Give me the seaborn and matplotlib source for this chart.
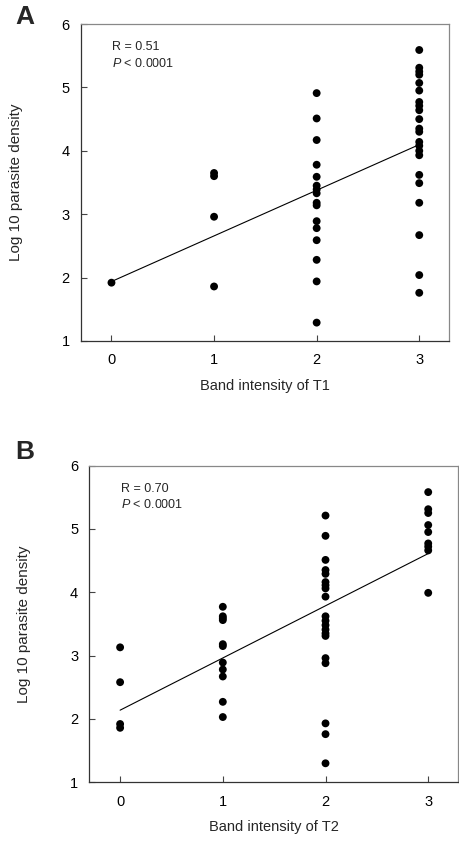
import numpy as np
import pandas as pd
import matplotlib
matplotlib.use("Agg")
import matplotlib.pyplot as plt
import seaborn as sns

# ---- data ----
a_band = [0,
          1, 1, 1, 1,
          2, 2, 2, 2, 2, 2, 2, 2, 2, 2, 2, 2, 2, 2, 2, 2,
          3, 3, 3, 3, 3, 3, 3, 3, 3, 3, 3, 3, 3, 3, 3, 3, 3, 3, 3, 3, 3, 3]
a_log = [1.92,
         3.65, 3.60, 2.96, 1.86,
         4.91, 4.51, 4.17, 3.78, 3.59, 3.45, 3.39, 3.33, 3.18, 3.14, 2.89, 2.78, 2.59, 2.28, 1.94, 1.29,
         5.59, 5.31, 5.25, 5.20, 5.07, 4.95, 4.77, 4.71, 4.64, 4.50, 4.35, 4.30, 4.14, 4.08, 4.00, 3.93,
         3.62, 3.49, 3.18, 2.67, 2.04, 1.76]

b_band = [0, 0, 0, 0,
          1, 1, 1, 1, 1, 1, 1, 1, 1, 1, 1,
          2, 2, 2, 2, 2, 2, 2, 2, 2, 2, 2, 2, 2, 2, 2, 2, 2, 2, 2, 2,
          3, 3, 3, 3, 3, 3, 3, 3, 3]
b_log = [3.13, 2.58, 1.92, 1.86,
         3.77, 3.62, 3.59, 3.56, 3.18, 3.15, 2.89, 2.78, 2.67, 2.27, 2.03,
         5.21, 4.89, 4.51, 4.35, 4.29, 4.16, 4.11, 4.06, 3.93, 3.62, 3.55, 3.48, 3.41, 3.35, 3.31,
         2.96, 2.88, 1.93, 1.76, 1.30,
         5.58, 5.31, 5.25, 5.06, 4.95, 4.77, 4.72, 4.66, 3.99]

x_ticks = [0, 1, 2, 3]
y_ticks = [1, 2, 3, 4, 5, 6]
panels = [
    dict(label="A", band=a_band, log=a_log, xlabel="Band intensity of T1", r="R = 0.51",
         rect=(80.7, 24, 449, 341), lab_xy=(25, 17)),
    dict(label="B", band=b_band, log=b_log, xlabel="Band intensity of T2", r="R = 0.70",
         rect=(89.3, 465.5, 458, 782.3), lab_xy=(25, 452)),
]

sns.set_theme(style="white")
plt.rcParams["font.family"] = ["Liberation Sans", "DejaVu Sans"]
plt.rcParams["mathtext.fontset"] = "custom"
plt.rcParams["mathtext.it"] = "Liberation Sans:italic"
plt.rcParams["mathtext.rm"] = "Liberation Sans"

W, H = 460, 842
fig = plt.figure(figsize=(W / 100, H / 100), dpi=100)

for p in panels:
    l, t, r, b = p["rect"]
    ax = fig.add_axes([l / W, 1 - b / H, (r - l) / W, (b - t) / H])
    df = pd.DataFrame({"band": p["band"], "log": p["log"]})
    sns.scatterplot(data=df, x="band", y="log", ax=ax, color="black", s=32,
                    edgecolor="none", linewidth=0, zorder=3)
    sns.regplot(data=df, x="band", y="log", ax=ax, scatter=False, ci=None,
                truncate=True, line_kws=dict(color="black", lw=0.8))
    ax.set_xlim(-0.3, 3.29)
    ax.set_ylim(1, 6)
    ax.set_xticks(x_ticks)
    ax.set_yticks(y_ticks)
    ax.tick_params(direction="in", length=4, width=0.8, colors="#444444",
                   labelcolor="black", labelsize=10.5, bottom=True, left=True)
    ax.tick_params(axis="x", pad=9)
    ax.tick_params(axis="y", pad=8)
    for side, sp in ax.spines.items():
        sp.set_visible(True)
        sp.set_linewidth(0.9)
        sp.set_color("#333333" if side in ("left", "bottom") else "#888888")
    ax.set_xlabel(p["xlabel"], fontsize=10.5, labelpad=8)
    ax.set_ylabel("Log 10 parasite density", fontsize=11, labelpad=28)
    ax.text(0.085, 0.927, p["r"], transform=ax.transAxes, fontsize=9,
            va="center", ha="left")
    ax.text(0.085, 0.876, r"$\it{P}$ < 0.0001", transform=ax.transAxes, fontsize=9,
            va="center", ha="left")
    fig.text(p["lab_xy"][0] / W, 1 - p["lab_xy"][1] / H, p["label"], fontsize=19,
             fontweight="bold", ha="center", va="center")

fig.savefig("out.png", dpi=100)
